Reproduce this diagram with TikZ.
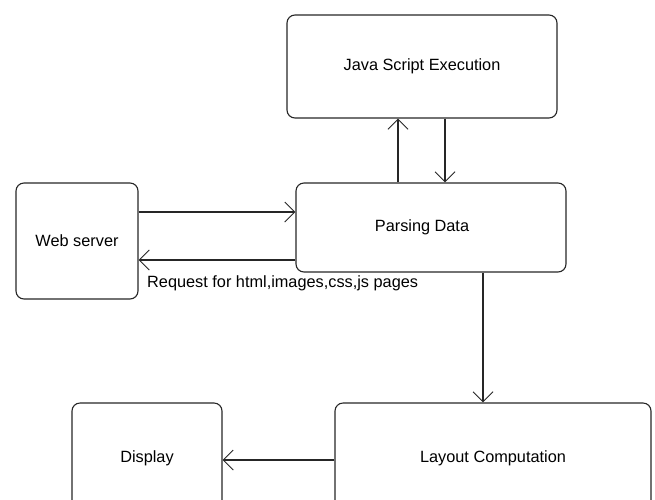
\documentclass[tikz,border=0pt]{standalone}
\usepackage{fontspec}
\setmainfont{Liberation Sans}
\usetikzlibrary{arrows.meta}
\begin{document}
\begin{tikzpicture}[x=1pt,y=-1pt,
  box/.style={draw=black!85, line width=1.1pt, rounded corners=8pt, inner sep=0pt, font=\fontsize{16.3}{19}\selectfont},
  arr/.style={draw=black!85, line width=1.1pt, -{Straight Barb[length=10pt,width=20pt,line width=1pt]}},
  lbl/.style={font=\fontsize{16.3}{19}\selectfont, inner sep=0pt}]
\useasboundingbox (0,0) rectangle (655,499);
\clip (0,0) rectangle (655,499);
\node[box, minimum width=270pt, minimum height=103pt] (js) at (422,66.5) {Java Script Execution};
\node[box, minimum width=270pt, minimum height=89pt] (parse) at (431,227.5) {\raisebox{-4pt}{Parsing Data\hspace{18pt}}};
\node[box, minimum width=122pt, minimum height=116pt] (web) at (77,241) {Web server};
\node[box, minimum width=150pt, minimum height=110pt] (disp) at (147,458) {Display};
\node[box, minimum width=316pt, minimum height=110pt] (lay) at (493,458) {Layout Computation};
\draw[arr] (web.east |- 0,212) -- (parse.west |- 0,212);
\draw[arr] (parse.west |- 0,260) -- (web.east |- 0,260);
\node[lbl, anchor=west] (req) at (147,283) {Request for html,images,css,js pages};
\draw[arr] (parse.north -| 398,0) -- (js.south -| 398,0);
\draw[arr] (js.south -| 445,0) -- (parse.north -| 445,0);
\draw[arr] (parse.south -| 483,0) -- (lay.north -| 483,0);
\draw[arr] (lay.west |- 0,460) -- (disp.east |- 0,460);
\end{tikzpicture}
\end{document}
